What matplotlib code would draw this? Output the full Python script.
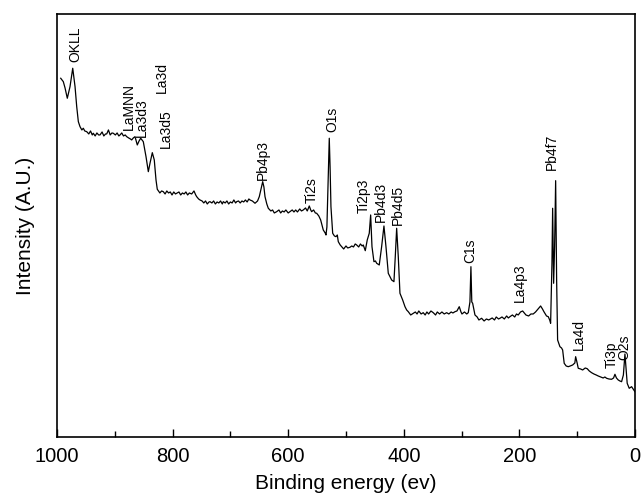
import matplotlib
matplotlib.use("Agg")
import matplotlib.pyplot as plt
from matplotlib.ticker import MultipleLocator

plt.rcParams['font.family'] = ['Liberation Sans', 'DejaVu Sans']

# binding energy (eV) and intensity (a.u.)
energy = [
    993.6, 989.1, 986.1, 982.2, 977.5, 972.8, 968.8, 965.9, 963.1, 960.2,
    957, 954.5, 952, 948.6, 945, 942, 939, 937.2, 934, 931,
    928, 925.6, 922, 919, 916, 914, 911, 908, 905, 902.6,
    899, 896, 893, 891, 888, 885, 882, 879.4, 876, 873,
    870.8, 868, 865.0, 861.1, 858, 855.2, 850.7, 846.0, 842.0, 839.1,
    835.1, 831.7, 828.7, 826.5, 822, 819, 816.1, 813, 810, 807,
    804, 801, 798, 795, 792.9, 789, 786, 783, 780, 777,
    774, 771, 767, 763, 760, 758.3, 755, 752.6, 749, 746,
    743, 740, 737, 735.3, 732, 729, 726, 723, 720, 717,
    714, 712.3, 709, 706, 703, 700, 697, 694, 691, 689.1,
    686, 683, 680, 677, 674, 671, 668, 666.1, 662, 657.4,
    653, 650.0, 647, 644.1, 642, 640.1, 637, 634.4, 630, 627,
    624, 619.9, 616, 613, 610, 607, 604, 600, 596.9, 593,
    590, 587, 584, 580, 577, 573.9, 570, 567, 563.5, 561,
    559.4, 556, 553, 550.7, 547, 543.8, 541, 539.3, 536, 534.6,
    533, 531.7, 530, 528.9, 527.5, 526.0, 523.0, 520, 517.3, 515,
    513.3, 510, 507.5, 504, 500, 497, 493.1, 490, 487, 484,
    481.5, 478, 475, 472, 470.1, 466.6, 463.2, 459.7, 457.3, 455.0,
    451.6, 449, 446.9, 442.4, 438.3, 434.3, 430.8, 426.8, 421.0, 417.0,
    414.7, 412.3, 409.5, 406.6, 401.9, 397.9, 395, 392.2, 388, 383.6,
    380, 377, 374, 370, 366.3, 363, 360, 357, 353, 349,
    345, 342, 338, 334, 330, 325.8, 322, 318, 315, 311.4,
    308, 304.0, 301, 299.3, 295, 291, 288.4, 285.5, 283.8, 282.3,
    280.8, 276.8, 273, 270, 265.3, 261, 257, 253, 250.9, 247,
    243, 240, 236, 233.6, 230, 226, 222, 219, 216.3, 212,
    208, 205, 201.9, 198, 194.3, 190, 188.6, 184, 180, 176,
    172, 169.1, 166, 163.2, 160, 157.5, 153, 150, 147.5, 145.9,
    143.6, 142.4, 140.7, 139.0, 137.2, 135.5, 133.8, 131.5, 129.8, 127,
    125.1, 122.4, 119, 115.4, 112, 107.8, 104, 102.6, 100, 98.1,
    94, 90.5, 86, 82.6, 79, 75, 71, 67, 63.5, 59,
    55, 52, 49, 45, 40.4, 37, 34.6, 32, 28.9, 26,
    23.1, 20, 17.3, 15, 13.4, 9.9, 5.8, 0,
]
intensity = [
    358.7, 355.3, 349, 338.7, 350.3, 368.7, 350.3, 330.3, 315.3, 310.3,
    307, 308.7, 306, 305.3, 303, 306, 302, 303.7, 301, 304,
    302, 302, 305, 301, 303, 303, 307, 302, 304, 303.7,
    302, 304, 301, 302, 304, 301, 302, 300.3, 299, 298,
    297, 299, 300.3, 292, 296, 298.7, 295.3, 280.3, 265.3, 273.7,
    284.3, 277, 257, 247.7, 244, 246, 245.3, 243, 246, 244,
    245, 242, 245, 243, 243.7, 245, 242, 244, 243, 245,
    242, 244, 243, 246, 242, 240.3, 238, 237, 236, 234,
    236, 233, 235, 235.3, 234, 236, 233, 235, 234, 236,
    233, 235.3, 234, 236, 233, 235, 234, 237, 234, 235.3,
    236, 234, 236, 235, 237, 235, 238, 237, 236, 233.7,
    236, 240.3, 248, 255.3, 250, 240.3, 233, 228.7, 226, 227,
    224, 225.3, 227, 224, 226, 225, 227, 224, 225.3, 227,
    225, 227, 225, 228, 226, 227, 229, 226, 231, 227,
    225.3, 227, 224, 223.7, 221, 217, 211, 207, 204, 202,
    210, 237, 270, 298.7, 270, 230.3, 203.7, 201, 200.3, 202,
    195.3, 192, 190.3, 188, 191, 189, 189.7, 191, 190, 193,
    192, 190, 193, 191, 192, 186.3, 197, 203.7, 222, 190.3,
    175.3, 176, 173.7, 172, 190.3, 211, 190.3, 163.7, 157, 155.3,
    180.3, 208.7, 180.3, 143.7, 137, 130.3, 127, 125.3, 122, 123.7,
    125, 123, 126, 123, 124.3, 122, 125, 123, 126, 124.3,
    122, 125, 123, 125, 123, 124.3, 123, 125, 124, 125.3,
    126, 130.3, 125, 123, 125, 123, 124.3, 135, 170.3, 135,
    133.7, 122, 120, 117, 118.7, 116, 118, 117, 117.7, 119,
    117, 120, 118, 118.7, 120, 118, 121, 119, 120.3, 122,
    120, 123, 122, 125, 126, 123, 122, 121, 123, 123,
    125, 127, 129, 131, 128, 125.3, 121, 120.3, 117, 113.7,
    173.7, 228.7, 153.7, 190.3, 256.3, 157, 97, 93, 90.3, 89,
    87, 73.7, 71, 70.3, 71, 72, 74, 80.3, 74, 68.7,
    68, 67, 69, 68.3, 66, 64.3, 63, 62, 61, 60,
    59, 60, 58.7, 58, 57.7, 59, 62.7, 59, 57, 56,
    55.3, 62, 83, 65, 53.7, 48.7, 50.3, 45.3,
]

# peak assignments and where each label sits (energy, intensity of its base)
peak_names = ['OKLL', 'LaMNN', 'La3d3', 'La3d', 'La3d5', 'Pb4p3', 'Ti2s', 'O1s',
              'Ti2p3', 'Pb4d3', 'Pb4d5', 'C1s', 'La4p3', 'Pb4f7', 'La4d', 'Ti3p', 'O2s']
peak_label_e = [969, 876, 853, 819, 811, 644, 559, 524,
                469, 440, 411, 285.5, 199, 144, 97, 40.5, 19]
peak_label_i = [375, 307, 300, 344, 289, 257, 234, 305,
                224, 215, 212, 174, 135, 267, 87, 69, 77]

fig = plt.figure(figsize=(6.42, 4.98), dpi=100)
ax = fig.add_axes([0.0888, 0.1225, 0.9002, 0.8495])

ax.plot(energy, intensity, color='black', lw=0.9)

for name, e, i in zip(peak_names, peak_label_e, peak_label_i):
    ax.text(e, i, name, rotation=90, ha='center', va='bottom', fontsize=10)

ax.set_xlim(1000, 0)
ax.set_ylim(0, 423)
ax.xaxis.set_major_locator(MultipleLocator(200))
ax.xaxis.set_minor_locator(MultipleLocator(100))
ax.tick_params(axis='x', which='major', direction='in', length=6, width=1,
               labelsize=14.5, pad=7, top=False)
ax.tick_params(axis='x', which='minor', direction='in', length=4, width=1, top=False)
ax.set_yticks([])
for s in ax.spines.values():
    s.set_linewidth(1.2)

ax.set_xlabel('Binding energy (ev)', fontsize=15, labelpad=6)
ax.set_ylabel('Intensity (A.U.)', fontsize=15, labelpad=16)

fig.savefig('out.png', dpi=100)
